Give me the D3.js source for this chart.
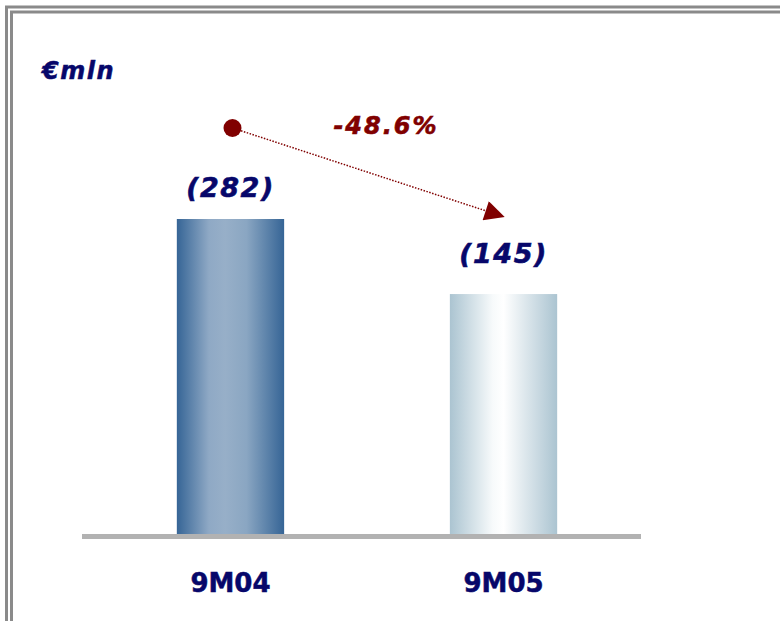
<!DOCTYPE html>
<html>
<head>
<meta charset="utf-8">
<script src="https://cdn.jsdelivr.net/npm/d3@7"></script>
<style>
  body { margin: 0; background: #fff; }
  text { font-family: "DejaVu Sans", Verdana, sans-serif; font-weight: bold; }
</style>
</head>
<body>
<div id="chart"></div>
<script>
// data
let categories = ["9M04", "9M05"];
let values = [282, 145];
let valueLabels = ["(282)", "(145)"];
let changeLabel = "-48.6%";
let unitLabel = "€mln";

function bar_chart() {
    let width = 780, height = 621;
    let navy = "#07076a", red = "#800000";

    let svg = d3.select("#chart")
        .append("svg")
        .attr("width", width)
        .attr("height", height);

    let defs = svg.append("defs");

    // gradients for the two bars
    let g1 = defs.append("linearGradient").attr("id", "grad0");
    [[0, "#366596"], [0.3, "#8fa9c5"], [0.45, "#97afc8"], [0.65, "#8aa6c2"], [1, "#366596"]]
        .forEach(function (s) {
            g1.append("stop").attr("offset", s[0]).attr("stop-color", s[1]);
        });
    let g2 = defs.append("linearGradient").attr("id", "grad1");
    [[0, "#abc4d1"], [0.4, "#f7fafb"], [0.5, "#ffffff"], [1, "#abc4d1"]]
        .forEach(function (s) {
            g2.append("stop").attr("offset", s[0]).attr("stop-color", s[1]);
        });

    defs.append("marker")
        .attr("id", "arrow")
        .attr("viewBox", "0 0 10 10")
        .attr("refX", 2)
        .attr("refY", 5)
        .attr("markerWidth", 24)
        .attr("markerHeight", 20)
        .attr("markerUnits", "userSpaceOnUse")
        .attr("orient", "auto")
        .append("path")
        .attr("d", "M0,0 L10,5 L0,10 Z")
        .attr("fill", red);

    // double frame
    svg.append("rect")
        .attr("x", 6.5).attr("y", 7)
        .attr("width", 800).attr("height", 640)
        .attr("fill", "none").attr("stroke", "#8a8a8a").attr("stroke-width", 3);
    svg.append("rect")
        .attr("x", 11.5).attr("y", 12)
        .attr("width", 800).attr("height", 640)
        .attr("fill", "none").attr("stroke", "#8a8a8a").attr("stroke-width", 3);

    let x = d3.scaleBand()
        .domain(categories)
        .range([87, 647])
        .paddingInner(0.607)
        .paddingOuter(0.329);

    let y = d3.scaleLinear()
        .domain([-293, 282])
        .range([534, 219]);

    // bars
    svg.append("g")
        .selectAll("rect")
        .data(values)
        .enter()
        .append("rect")
        .attr("x", function (d, i) { return x(categories[i]); })
        .attr("y", function (d) { return y(d); })
        .attr("width", x.bandwidth())
        .attr("height", function (d) { return y(-293) - y(d); })
        .attr("fill", function (d, i) { return "url(#grad" + i + ")"; });

    // baseline
    svg.append("rect")
        .attr("x", 82).attr("y", 534)
        .attr("width", 559).attr("height", 5)
        .attr("fill", "#b2b2b2");

    // value labels (gap above each bar differs in the original)
    let labelGap = [22, 31];
    svg.append("g")
        .selectAll("text")
        .data(values)
        .enter()
        .append("text")
        .attr("x", function (d, i) { return x(categories[i]) + x.bandwidth() / 2; })
        .attr("y", function (d, i) { return y(d) - labelGap[i]; })
        .attr("text-anchor", "middle")
        .attr("font-size", 27)
        .attr("font-style", "italic")
        .attr("letter-spacing", 1.5)
        .attr("fill", navy)
        .attr("stroke", navy)
        .attr("stroke-width", 0.6)
        .text(function (d, i) { return valueLabels[i]; });

    // category labels
    svg.append("g")
        .selectAll("text")
        .data(categories)
        .enter()
        .append("text")
        .attr("x", function (d) { return x(d) + x.bandwidth() / 2; })
        .attr("y", 592)
        .attr("text-anchor", "middle")
        .attr("font-size", 26)
        .attr("fill", navy)
        .attr("stroke", navy)
        .attr("stroke-width", 0.5)
        .text(function (d) { return d; });

    // unit label
    svg.append("text")
        .attr("x", 42).attr("y", 79)
        .attr("font-size", 24)
        .attr("font-style", "italic")
        .attr("letter-spacing", 1.5)
        .attr("fill", navy)
        .attr("stroke", navy)
        .attr("stroke-width", 0.5)
        .text(unitLabel);

    // change arrow
    let cx1 = x(categories[0]) + x.bandwidth() / 2;
    let cx2 = x(categories[1]) + x.bandwidth() / 2;
    let p0 = [cx1 + 2, y(values[0]) - 91];
    let p1 = [cx2 - 14, y(values[1]) - 82];

    svg.append("line")
        .attr("x1", p0[0]).attr("y1", p0[1])
        .attr("x2", p1[0]).attr("y2", p1[1])
        .attr("stroke", red)
        .attr("stroke-width", 1.5)
        .attr("stroke-dasharray", "1.5,1.5")
        .attr("marker-end", "url(#arrow)");

    svg.append("circle")
        .attr("cx", p0[0]).attr("cy", p0[1])
        .attr("r", 9)
        .attr("fill", red);

    svg.append("text")
        .attr("x", 386).attr("y", 134)
        .attr("text-anchor", "middle")
        .attr("font-size", 24)
        .attr("font-style", "italic")
        .attr("letter-spacing", 2)
        .attr("fill", red)
        .attr("stroke", red)
        .attr("stroke-width", 0.6)
        .text(changeLabel);
}

bar_chart();
</script>
</body>
</html>
